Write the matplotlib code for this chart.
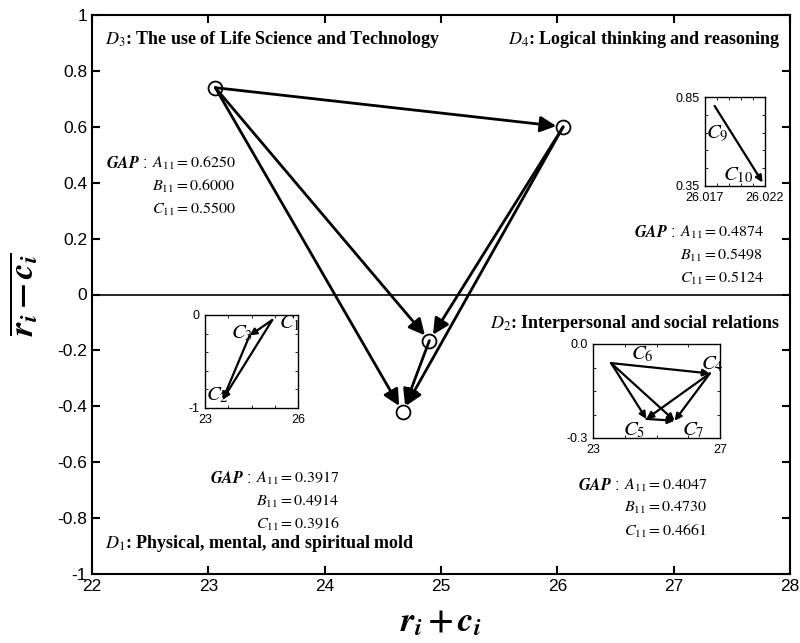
# network relation map (DEMATEL style)
import matplotlib

matplotlib.use("Agg")
import matplotlib.pyplot as plt

plt.rcParams["font.family"] = ["Liberation Sans", "DejaVu Sans"]
plt.rcParams["mathtext.fontset"] = "stix"

# dimensions D1..D4 : (r+c, r-c)
dims = ["D1", "D2", "D3", "D4"]
dim_x = [24.67, 24.90, 23.06, 26.05]
dim_y = [-0.42, -0.165, 0.74, 0.60]
dim_links = [("D3", "D4"), ("D3", "D2"), ("D3", "D1"), ("D4", "D2"), ("D4", "D1"), ("D2", "D1")]

# criteria inside each dimension
d1_names = ["C_1", "C_2", "C_3"]
d1_x = [25.17, 23.57, 24.44]
d1_y = [-0.054, -0.91, -0.22]
d1_links = [("C_1", "C_3"), ("C_1", "C_2"), ("C_3", "C_2")]

d2_names = ["C_4", "C_5", "C_6", "C_7"]
d2_x = [26.68, 24.68, 23.57, 25.57]
d2_y = [-0.094, -0.239, -0.061, -0.245]
d2_links = [("C_6", "C_4"), ("C_6", "C_5"), ("C_6", "C_7"), ("C_4", "C_5"), ("C_4", "C_7"), ("C_5", "C_7")]

d4_names = ["C_9", "C_{10}"]
d4_x = [26.0178, 26.0218]
d4_y = [0.80, 0.37]
d4_links = [("C_9", "C_{10}")]

gap_d1 = ["0.3917", "0.4914", "0.3916"]
gap_d2 = ["0.4047", "0.4730", "0.4661"]
gap_d3 = ["0.6250", "0.6000", "0.5500"]
gap_d4 = ["0.4874", "0.5498", "0.5124"]

W, H = 800, 643


def px_rect(x0, y0, x1, y1):
    return [x0 / W, 1 - y1 / H, (x1 - x0) / W, (y1 - y0) / H]


def draw_links(ax, names, xs, ys, links, lw, ms, shrink):
    pos = {n: (x, y) for n, x, y in zip(names, xs, ys)}
    for a, b in links:
        ax.annotate(
            "", xy=pos[b], xytext=pos[a],
            arrowprops=dict(arrowstyle="-|>", color="black", lw=lw,
                            mutation_scale=ms, shrinkA=0, shrinkB=shrink),
        )


def gap_block(x, y, vals, fs=11.5, dy=0.036):
    letters = ["A", "B", "C"]
    for i, (l, v) in enumerate(zip(letters, vals)):
        s = rf"$\mathit{{{l}}}_{{11}} = {v}$"
        fig.text(x, y - i * dy, s, fontsize=fs, ha="left", va="center")
    fig.text(x - 0.006, y, r"$\mathbfit{GAP}$ :", fontsize=fs, ha="right", va="center")


fig = plt.figure(figsize=(8, 6.43), dpi=100)
ax = fig.add_axes(px_rect(92, 15, 790, 574))
ax.set_xlim(22, 28)
ax.set_ylim(-1, 1)
ax.set_xticks(range(22, 29))
ax.set_yticks([-1, -0.8, -0.6, -0.4, -0.2, 0, 0.2, 0.4, 0.6, 0.8, 1])
ax.set_yticklabels(["-1", "-0.8", "-0.6", "-0.4", "-0.2", "0", "0.2", "0.4", "0.6", "0.8", "1"])
ax.tick_params(direction="in", top=True, right=True, length=6, width=1.5, labelsize=12.5)
for s in ax.spines.values():
    s.set_linewidth(1.5)
ax.axhline(0, color="black", lw=1.2)

draw_links(ax, dims, dim_x, dim_y, dim_links, lw=2, ms=24, shrink=5)
ax.plot(dim_x, dim_y, "o", mfc="none", mec="black", ms=10, mew=1.3)

ax.set_xlabel(r"$\mathbfit{r}_\mathbfit{i}\,\mathbf{+}\,\mathbfit{c}_\mathbfit{i}$", fontsize=25, labelpad=8)
ax.set_ylabel(r"$\overline{\mathbfit{r}_\mathbfit{i}\,\mathbf{-}\,\mathbfit{c}_\mathbfit{i}}$", fontsize=25, labelpad=12)

serif = dict(family=["Liberation Serif", "DejaVu Serif"], fontweight="bold", fontsize=13)
fig.text(105 / W, 1 - 40 / H, r"$D_3$: The use of Life Science and Technology", va="center", **serif)
fig.text(780 / W, 1 - 40 / H, r"$D_4$: Logical thinking and reasoning", va="center", ha="right", **serif)
fig.text(780 / W, 1 - 323 / H, r"$D_2$: Interpersonal and social relations", va="center", ha="right", **serif)
fig.text(105 / W, 1 - 543 / H, r"$D_1$: Physical, mental, and spiritual mold", va="center", **serif)

gap_block(152 / W, 1 - 163 / H, gap_d3)
gap_block(256 / W, 1 - 478 / H, gap_d1)
gap_block(624 / W, 1 - 485 / H, gap_d2)
gap_block(680 / W, 1 - 232 / H, gap_d4)


def inset(rect, xlim, ylim, xt, yt, xl, yl):
    a = fig.add_axes(rect)
    a.set_xlim(*xlim)
    a.set_ylim(*ylim)
    a.set_xticks(xt)
    a.set_xticklabels(xl)
    a.set_yticks(yt)
    a.set_yticklabels(yl)
    a.minorticks_on()
    a.tick_params(which="both", direction="in", top=True, right=True, labelsize=9, length=2, pad=4)
    a.tick_params(which="major", length=0)
    for s in a.spines.values():
        s.set_linewidth(1.0)
    return a


lab = dict(fontsize=15)

a1 = inset(px_rect(205, 315, 298, 408), (23, 26), (-1, 0), [23, 26], [-1, 0], ["23", "26"], ["-1", "0"])
draw_links(a1, d1_names, d1_x, d1_y, d1_links, lw=1.6, ms=10, shrink=0)
a1.text(25.4, -0.14, r"$C_1$", **lab)
a1.text(23.85, -0.25, r"$C_3$", **lab)
a1.text(23.04, -0.92, r"$C_2$", **lab)

a2 = inset(px_rect(593, 344, 720, 438), (23, 27), (-0.3, 0.0), [23, 27], [-0.3, 0.0], ["23", "27"], ["-0.3", "0.0"])
draw_links(a2, d2_names, d2_x, d2_y, d2_links, lw=1.6, ms=10, shrink=0)
a2.text(24.2, -0.05, r"$C_6$", **lab)
a2.text(26.4, -0.08, r"$C_4$", **lab)
a2.text(23.95, -0.29, r"$C_5$", **lab)
a2.text(25.8, -0.29, r"$C_7$", **lab)

a4 = inset(px_rect(705, 97, 765, 186), (26.017, 26.022), (0.35, 0.85), [26.017, 26.022], [0.35, 0.85],
           ["26.017", "26.022"], ["0.35", "0.85"])
draw_links(a4, d4_names, d4_x, d4_y, d4_links, lw=1.6, ms=10, shrink=0)
a4.text(26.0171, 0.62, r"$C_9$", **lab)
a4.text(26.0185, 0.38, r"$C_{10}$", **lab)

fig.savefig("out.png", dpi=100)
